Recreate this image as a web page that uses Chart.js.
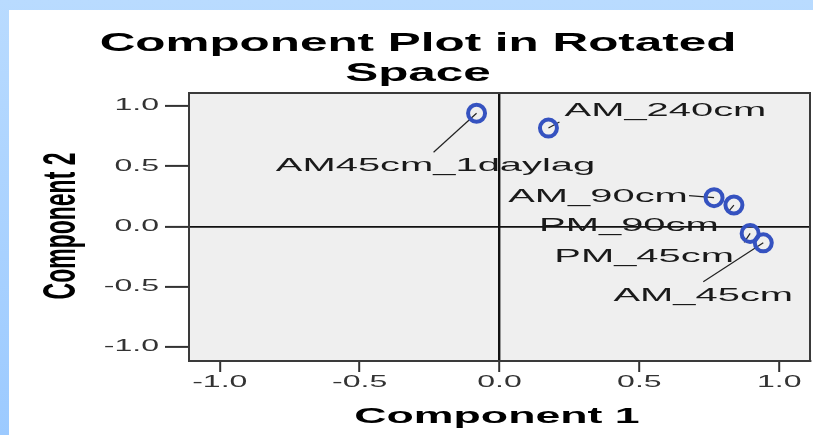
<!DOCTYPE html>
<html>
<head>
<meta charset="utf-8">
<script src="https://cdn.jsdelivr.net/npm/chart.js@4"></script>
<style>
  html, body { margin: 0; padding: 0; }
  body { width: 813px; height: 435px; position: relative; overflow: hidden;
         background: linear-gradient(to bottom, #b9dbff, #9ccaff); }
  #panel { position: absolute; left: 9px; top: 10px; width: 804px; height: 425px; background: #fff; }
  #chart { position: absolute; left: 0; top: 0; }
</style>
</head>
<body>
<div id="panel"></div>
<canvas id="chart" width="813" height="435"></canvas>
<script>
// loadings
var names = ['AM45cm_1daylag', 'AM_240cm', 'AM_90cm', 'PM_90cm', 'PM_45cm', 'AM_45cm'];
var comp1 = [-0.082, 0.175, 0.767, 0.838, 0.896, 0.943];
var comp2 = [0.940, 0.817, 0.239, 0.178, -0.058, -0.136];
var tickValues = [-1.0, -0.5, 0.0, 0.5, 1.0];
var tickLabels = ['-1.0', '-0.5', '0.0', '0.5', '1.0'];

// label placement (pixels from the point): text centre and leader end
var labelOffsets = [[-41, 53], [117, -17], [-116, -1], [-105, 21], [-106, 23], [-60, 53]];
var leaderEnds = [[-43, 39], [11, -6], [-25, -2], [-6, 7], [-6, 9], [-60, 39]];

var STRETCH = 2.0;

function stretchText(ctx, txt, x, y, font, align, baseline, sx) {
    ctx.save();
    ctx.translate(x, y);
    ctx.scale(sx, 1);
    ctx.font = font;
    ctx.textAlign = align;
    ctx.textBaseline = baseline;
    ctx.fillText(txt, 0, 0);
    ctx.restore();
}

var points = names.map(function (n, i) { return { x: comp1[i], y: comp2[i] }; });

var plotDeco = {
    id: 'plotDeco',
    beforeDraw: function (chart) {
        var a = chart.chartArea, ctx = chart.ctx;
        ctx.save();
        ctx.fillStyle = '#efefef';
        ctx.fillRect(a.left, a.top, a.right - a.left, a.bottom - a.top);
        ctx.restore();
    },
    beforeDatasetsDraw: function (chart) {
        var ctx = chart.ctx, xs = chart.scales.x, ys = chart.scales.y;
        ctx.save();
        ctx.strokeStyle = '#222';
        ctx.lineWidth = 1.2;
        for (var i = 0; i < names.length; i++) {
            var px = xs.getPixelForValue(comp1[i]), py = ys.getPixelForValue(comp2[i]);
            ctx.beginPath();
            ctx.moveTo(px, py);
            ctx.lineTo(px + leaderEnds[i][0], py + leaderEnds[i][1]);
            ctx.stroke();
        }
        ctx.restore();
    },
    afterDraw: function (chart) {
        var a = chart.chartArea, ctx = chart.ctx, xs = chart.scales.x, ys = chart.scales.y;
        ctx.save();
        // box
        ctx.strokeStyle = '#3a3a3a';
        ctx.lineWidth = 2;
        ctx.strokeRect(a.left, a.top, a.right - a.left, a.bottom - a.top);

        ctx.fillStyle = '#333';
        // tick labels
        tickValues.forEach(function (v, i) {
            stretchText(ctx, tickLabels[i], xs.getPixelForValue(v), 383, '16px "Liberation Sans", Arial, sans-serif', 'center', 'middle', STRETCH);
            stretchText(ctx, tickLabels[i], 159, ys.getPixelForValue(v), '16px "Liberation Sans", Arial, sans-serif', 'right', 'middle', STRETCH);
        });

        // point labels
        ctx.fillStyle = '#1a1a1a';
        for (var i = 0; i < names.length; i++) {
            var px = xs.getPixelForValue(comp1[i]), py = ys.getPixelForValue(comp2[i]);
            stretchText(ctx, names[i], px + labelOffsets[i][0], py + labelOffsets[i][1], '19px "Liberation Sans", Arial, sans-serif', 'center', 'middle', 2.1);
        }

        // titles
        ctx.fillStyle = '#000';
        var bold = 'bold 26px "Liberation Sans", Arial, sans-serif';
        stretchText(ctx, 'Component Plot in Rotated', 418, 51, bold, 'center', 'alphabetic', 1.9);
        stretchText(ctx, 'Space', 418, 81, bold, 'center', 'alphabetic', 1.9);
        stretchText(ctx, 'Component 1', 497, 423, 'bold 22px "Liberation Sans", Arial, sans-serif', 'center', 'alphabetic', 2.03);

        ctx.save();
        ctx.translate(75, 226);
        ctx.scale(2, 1);
        ctx.rotate(-Math.PI / 2);
        ctx.font = 'bold 23px "Liberation Sans", Arial, sans-serif';
        ctx.textAlign = 'center';
        ctx.textBaseline = 'alphabetic';
        ctx.fillText('Component 2', 0, 0);
        ctx.restore();

        ctx.restore();
    }
};

function zeroLine(c) { return c.tick && c.tick.value === 0 ? '#111' : 'rgba(0,0,0,0)'; }

new Chart(document.getElementById('chart'), {
    type: 'scatter',
    data: {
        datasets: [{
            label: 'Loadings',
            data: points,
            pointStyle: 'circle',
            pointRadius: 8.5,
            pointHoverRadius: 8.5,
            borderWidth: 4,
            borderColor: '#3552c0',
            backgroundColor: 'rgba(0,0,0,0)'
        }]
    },
    options: {
        responsive: false,
        devicePixelRatio: 1,
        animation: false,
        layout: { autoPadding: false, padding: { left: 165, right: 3, top: 93, bottom: 63 } },
        plugins: { legend: { display: false }, tooltip: { enabled: false }, title: { display: false } },
        scales: {
            x: {
                type: 'linear',
                min: -1.11, max: 1.11,
                afterBuildTicks: function (s) { s.ticks = tickValues.map(function (v) { return { value: v }; }); },
                ticks: { display: false },
                grid: { color: zeroLine, lineWidth: 2.4, drawTicks: true, tickLength: 11, tickColor: '#333', tickWidth: 2 },
                border: { display: true, color: '#3a3a3a', width: 2 }
            },
            y: {
                type: 'linear',
                min: -1.117, max: 1.108,
                afterBuildTicks: function (s) { s.ticks = tickValues.map(function (v) { return { value: v }; }); },
                ticks: { display: false },
                grid: { color: zeroLine, lineWidth: 1.8, drawTicks: true, tickLength: 24, tickColor: '#333', tickWidth: 2 },
                border: { display: true, color: '#3a3a3a', width: 2 }
            }
        }
    },
    plugins: [plotDeco]
});
</script>
</body>
</html>
